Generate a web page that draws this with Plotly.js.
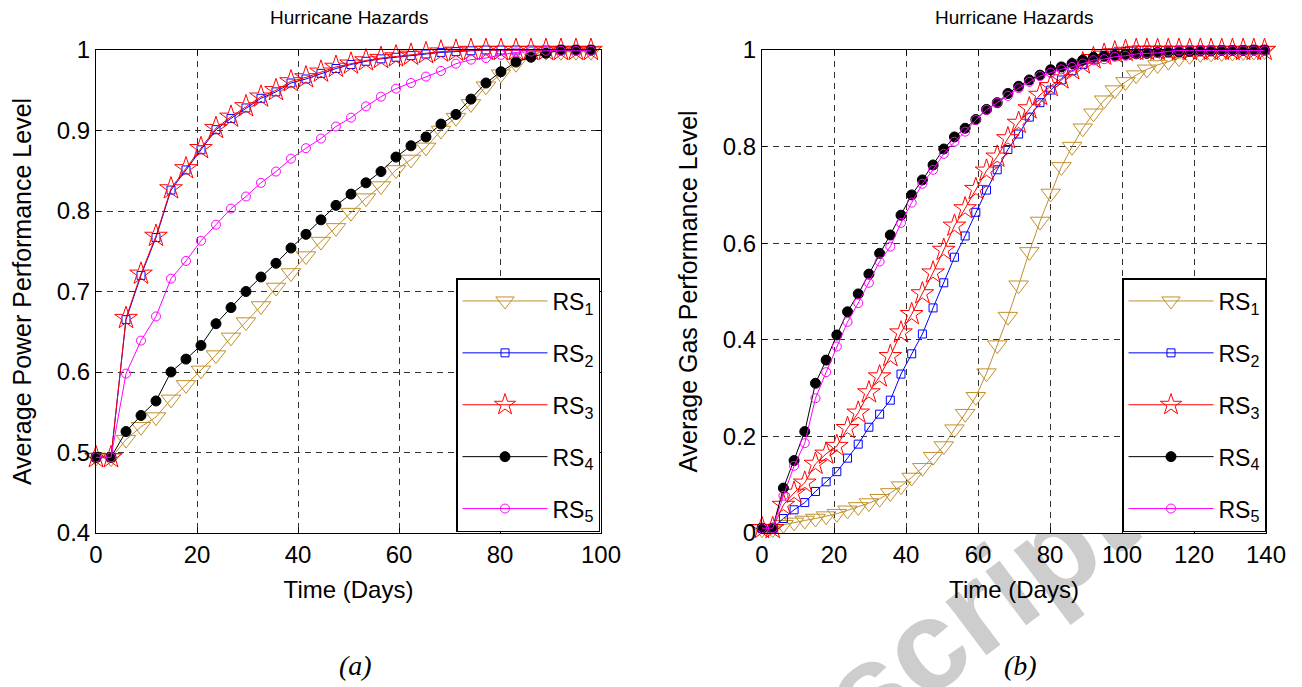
<!DOCTYPE html>
<html>
<head>
<meta charset="utf-8">
<script src="https://cdn.plot.ly/plotly-3.0.1.min.js"></script>
<style>html,body{margin:0;padding:0;background:#fff;}#chart{width:1302px;height:687px;}</style>
</head>
<body>
<div id="chart"></div>
<script>
// ---------- data: panel (a) power ----------
const daysA = [0, 2.97, 5.94, 8.91, 11.88, 14.85, 17.82, 20.79, 23.76, 26.73, 29.7, 32.67, 35.64, 38.61, 41.58, 44.55, 47.52, 50.49, 53.46, 56.43, 59.4, 62.37, 65.34, 68.31, 71.28, 74.25, 77.22, 80.19, 83.16, 86.13, 89.1, 92.07, 95.04, 98.01];
const powerRS1 = [0.494, 0.493, 0.516, 0.532, 0.544, 0.566, 0.584, 0.602, 0.621, 0.643, 0.662, 0.682, 0.705, 0.723, 0.744, 0.762, 0.779, 0.798, 0.816, 0.831, 0.851, 0.864, 0.879, 0.900, 0.916, 0.933, 0.955, 0.970, 0.983, 0.995, 0.998, 0.998, 0.998, 0.998];
const powerRS2 = [0.494, 0.494, 0.665, 0.720, 0.767, 0.826, 0.851, 0.876, 0.901, 0.915, 0.928, 0.940, 0.948, 0.959, 0.964, 0.971, 0.977, 0.982, 0.986, 0.989, 0.991, 0.993, 0.995, 0.997, 0.998, 0.999, 1, 1, 1, 1, 1, 1, 1, 1];
const powerRS3 = [0.494, 0.494, 0.667, 0.722, 0.769, 0.828, 0.853, 0.878, 0.903, 0.917, 0.930, 0.942, 0.950, 0.961, 0.966, 0.973, 0.979, 0.983, 0.987, 0.990, 0.992, 0.994, 0.996, 0.998, 0.999, 1, 1, 1, 1, 1, 1, 1, 1, 1];
const powerRS4 = [0.494, 0.494, 0.526, 0.546, 0.564, 0.600, 0.616, 0.633, 0.660, 0.680, 0.700, 0.718, 0.735, 0.754, 0.771, 0.789, 0.807, 0.821, 0.835, 0.849, 0.867, 0.881, 0.892, 0.908, 0.920, 0.939, 0.959, 0.973, 0.985, 0.991, 0.996, 1, 1, 1];
const powerRS5 = [0.494, 0.494, 0.598, 0.639, 0.669, 0.716, 0.738, 0.763, 0.783, 0.803, 0.818, 0.835, 0.849, 0.865, 0.878, 0.890, 0.905, 0.916, 0.930, 0.942, 0.952, 0.959, 0.967, 0.974, 0.983, 0.988, 0.990, 0.994, 0.997, 0.998, 0.999, 0.999, 0.999, 0.999];

// ---------- data: panel (b) gas ----------
const daysB = [0, 2.97, 5.94, 8.91, 11.88, 14.85, 17.82, 20.79, 23.76, 26.73, 29.7, 32.67, 35.64, 38.61, 41.58, 44.55, 47.52, 50.49, 53.46, 56.43, 59.4, 62.37, 65.34, 68.31, 71.28, 74.25, 77.22, 80.19, 83.16, 86.13, 89.1, 92.07, 95.04, 98.01, 100.98, 103.95, 106.92, 109.89, 112.86, 115.83, 118.8, 121.77, 124.74, 127.71, 130.68, 133.65, 136.62, 139.59];
const gasRS1 = [0.008, 0.008, 0.017, 0.022, 0.026, 0.030, 0.035, 0.040, 0.047, 0.054, 0.062, 0.071, 0.083, 0.097, 0.115, 0.135, 0.158, 0.180, 0.215, 0.247, 0.282, 0.331, 0.389, 0.448, 0.513, 0.582, 0.645, 0.703, 0.758, 0.800, 0.838, 0.869, 0.896, 0.917, 0.934, 0.948, 0.960, 0.969, 0.976, 0.983, 0.988, 0.992, 0.993, 0.994, 0.995, 0.996, 0.997, 0.998];
const gasRS2 = [0.010, 0.010, 0.030, 0.048, 0.063, 0.086, 0.106, 0.127, 0.155, 0.184, 0.219, 0.246, 0.275, 0.329, 0.371, 0.412, 0.466, 0.518, 0.571, 0.615, 0.664, 0.710, 0.752, 0.794, 0.826, 0.861, 0.891, 0.917, 0.938, 0.957, 0.970, 0.981, 0.989, 0.994, 0.997, 1, 1, 1, 1, 1, 1, 1, 1, 1, 1, 1, 1, 1];
const gasRS3 = [0.010, 0.010, 0.058, 0.083, 0.104, 0.143, 0.164, 0.180, 0.217, 0.249, 0.291, 0.324, 0.366, 0.415, 0.453, 0.496, 0.539, 0.586, 0.636, 0.672, 0.712, 0.750, 0.779, 0.817, 0.849, 0.879, 0.907, 0.925, 0.941, 0.960, 0.972, 0.983, 0.990, 0.995, 0.998, 1, 1, 1, 1, 1, 1, 1, 1, 1, 1, 1, 1, 1];
const gasRS4 = [0.010, 0.010, 0.093, 0.150, 0.210, 0.310, 0.358, 0.410, 0.458, 0.495, 0.536, 0.579, 0.617, 0.658, 0.700, 0.731, 0.762, 0.795, 0.820, 0.838, 0.856, 0.877, 0.891, 0.910, 0.925, 0.938, 0.948, 0.959, 0.965, 0.972, 0.979, 0.985, 0.987, 0.989, 0.991, 0.992, 0.993, 0.995, 0.996, 0.996, 0.997, 0.998, 0.998, 0.999, 0.999, 0.999, 1, 1];
const gasRS5 = [0.010, 0.010, 0.077, 0.139, 0.186, 0.279, 0.333, 0.386, 0.437, 0.476, 0.518, 0.562, 0.593, 0.642, 0.684, 0.723, 0.752, 0.785, 0.810, 0.831, 0.855, 0.876, 0.891, 0.905, 0.921, 0.934, 0.946, 0.953, 0.960, 0.965, 0.972, 0.979, 0.981, 0.986, 0.988, 0.992, 0.993, 0.994, 0.997, 0.999, 0.999, 0.999, 0.999, 0.999, 0.999, 0.999, 0.999, 0.999];

const seriesNames = ['RS<sub>1</sub>', 'RS<sub>2</sub>', 'RS<sub>3</sub>', 'RS<sub>4</sub>', 'RS<sub>5</sub>'];
const xTicksA = [0, 20, 40, 60, 80, 100];
const yTicksA = [0.4, 0.5, 0.6, 0.7, 0.8, 0.9, 1];
const xTicksB = [0, 20, 40, 60, 80, 100, 120, 140];
const yTicksB = [0, 0.2, 0.4, 0.6, 0.8, 1];

// ---------- styles ----------
const styles = [
  {color: '#c0902c', symbol: 'triangle-down-open', size: 17},
  {color: '#0000ff', symbol: 'square-open', size: 8},
  {color: '#ff0000', symbol: 'star-open', size: 17},
  {color: '#000000', symbol: 'circle', size: 10},
  {color: '#ff00ff', symbol: 'circle-open', size: 9}
];

const FONT = 'Liberation Sans, Arial, Helvetica, sans-serif';
const powerSeries = [powerRS1, powerRS2, powerRS3, powerRS4, powerRS5];
const gasSeries = [gasRS1, gasRS2, gasRS3, gasRS4, gasRS5];

const traces = [];
powerSeries.forEach((ys, i) => {
  const s = styles[i];
  traces.push({
    type: 'scatter', mode: 'lines+markers', x: daysA, y: ys,
    xaxis: 'x', yaxis: 'y', name: seriesNames[i], legend: 'legend', legendgroup: 'a' + i,
    line: {color: s.color, width: 1},
    marker: {symbol: s.symbol, size: s.size, color: s.color, line: {color: s.color, width: 1}},
    cliponaxis: false
  });
});
gasSeries.forEach((ys, i) => {
  const s = styles[i];
  traces.push({
    type: 'scatter', mode: 'lines+markers', x: daysB, y: ys,
    xaxis: 'x2', yaxis: 'y2', name: seriesNames[i], legend: 'legend2', legendgroup: 'b' + i,
    line: {color: s.color, width: 1},
    marker: {symbol: s.symbol, size: s.size, color: s.color, line: {color: s.color, width: 1}},
    cliponaxis: false
  });
});

const axisCommon = {
  showline: true, linecolor: '#000', linewidth: 1, mirror: 'ticks',
  ticks: 'inside', ticklen: 5, tickcolor: '#000', tickwidth: 1,
  showgrid: true, gridcolor: '#333', gridwidth: 1, griddash: '6px,5px',
  zeroline: false, automargin: false,
  tickfont: {family: FONT, size: 24, color: '#000'}
};

const W = 1302, H = 687;
const px = v => v / W;
const py = v => 1 - v / H;
const yDomain = [py(533), py(50)];

const legendCommon = {
  xanchor: 'right', yanchor: 'bottom', y: py(532),
  bgcolor: '#fff', bordercolor: '#000', borderwidth: 1.5,
  font: {family: FONT, size: 23, color: '#000'},
  itemwidth: 85, traceorder: 'grouped', tracegroupgap: 19
};

// watermark direction (pixel space), angle -37 deg
const wmC = [593, 881], wmD = [Math.cos(37 * Math.PI / 180), -Math.sin(37 * Math.PI / 180)];

const layout = {
  width: W, height: H,
  margin: {l: 0, r: 0, t: 0, b: 0},
  paper_bgcolor: '#fff', plot_bgcolor: '#fff',
  showlegend: true,
  xaxis: Object.assign({}, axisCommon, {
    domain: [px(96), px(601)], range: [0, 100], anchor: 'y',
    tickvals: xTicksA,
    title: {text: 'Time (Days)', font: {family: FONT, size: 24, color: '#000'}, standoff: 14}
  }),
  yaxis: Object.assign({}, axisCommon, {
    domain: yDomain, range: [0.4, 1], anchor: 'x',
    tickvals: yTicksA,
    title: {text: 'Average Power Performance Level', font: {family: FONT, size: 25, color: '#000'}, standoff: 18}
  }),
  xaxis2: Object.assign({}, axisCommon, {
    domain: [px(762), px(1266)], range: [0, 140], anchor: 'y2',
    tickvals: xTicksB,
    title: {text: 'Time (Days)', font: {family: FONT, size: 24, color: '#000'}, standoff: 14}
  }),
  yaxis2: Object.assign({}, axisCommon, {
    domain: yDomain, range: [0, 1], anchor: 'x2',
    tickvals: yTicksB,
    title: {text: 'Average Gas Performance Level', font: {family: FONT, size: 25, color: '#000'}, standoff: 18}
  }),
  legend: Object.assign({}, legendCommon, {x: px(600)}),
  legend2: Object.assign({}, legendCommon, {x: px(1266)}),
  shapes: [
    {type: 'line', xref: 'paper', yref: 'paper', layer: 'below',
     x0: px(wmC[0] - 300 * wmD[0]), y0: py(wmC[1] - 300 * wmD[1]),
     x1: px(wmC[0] + 300 * wmD[0]), y1: py(wmC[1] + 300 * wmD[1]),
     line: {color: 'rgba(0,0,0,0)', width: 0},
     label: {text: 'Accepted Manuscript', textangle: 'auto', textposition: 'middle',
             xanchor: 'center', yanchor: 'middle', padding: 0,
             font: {family: FONT, size: 128, weight: 'bold', color: '#cdcdcd'}}},
    {type: 'rect', xref: 'paper', yref: 'paper', layer: 'below',
     x0: px(96), x1: px(601), y0: py(533), y1: py(50), fillcolor: '#fff', line: {width: 0}},
    {type: 'rect', xref: 'paper', yref: 'paper', layer: 'below',
     x0: px(762), x1: px(1266), y0: py(533), y1: py(50), fillcolor: '#fff', line: {width: 0}}
  ],
  annotations: [
    {text: 'Hurricane Hazards', xref: 'paper', yref: 'paper', x: px(348.5), y: py(18),
     xanchor: 'center', yanchor: 'middle', showarrow: false,
     font: {family: FONT, size: 19, color: '#000'}},
    {text: 'Hurricane Hazards', xref: 'paper', yref: 'paper', x: px(1014), y: py(18),
     xanchor: 'center', yanchor: 'middle', showarrow: false,
     font: {family: FONT, size: 19, color: '#000'}},
    {text: '<i>(a)</i>', xref: 'paper', yref: 'paper', x: px(355), y: py(665),
     xanchor: 'center', yanchor: 'middle', showarrow: false,
     font: {family: 'Liberation Serif, Times New Roman, serif', size: 28, color: '#000'}},
    {text: '<i>(b)</i>', xref: 'paper', yref: 'paper', x: px(1020), y: py(665),
     xanchor: 'center', yanchor: 'middle', showarrow: false,
     font: {family: 'Liberation Serif, Times New Roman, serif', size: 28, color: '#000'}}
  ]
};

Plotly.newPlot('chart', traces, layout, {displayModeBar: false, staticPlot: true});
</script>
</body>
</html>
